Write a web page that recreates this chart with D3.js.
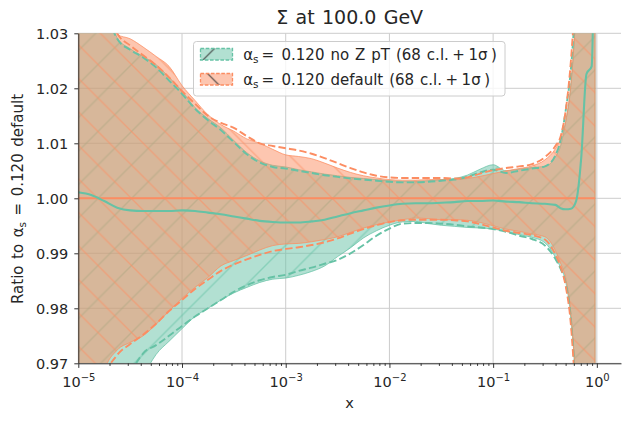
<!DOCTYPE html>
<html>
<head>
<meta charset="utf-8">
<script src="https://cdn.jsdelivr.net/npm/d3@7"></script>
<style>
  body { margin: 0; background: #fff; }
  svg { display: block; font-family: "DejaVu Sans", sans-serif; }
</style>
</head>
<body>
<svg id="chart" width="630" height="421"></svg>
<script>

// x positions, as log10(x)
var xExp = [-5, -4.875, -4.75, -4.625, -4.5, -4.375, -4.25, -4.125, -4, -3.875,
            -3.75, -3.625, -3.5, -3.375, -3.25, -3.125, -3, -2.875, -2.75, -2.625,
            -2.5, -2.375, -2.25, -2.125, -2, -1.875, -1.75, -1.625, -1.5, -1.375,
            -1.25, -1.125, -1, -0.875, -0.75, -0.625, -0.5, -0.4, -0.35, -0.3,
            -0.25, -0.2, -0.15, -0.1, -0.05, -0.017];

// alpha_s = 0.120 no Z pT
var greenCentral = [1.0011, 1.0006, 0.9995, 0.9983, 0.9978, 0.9977, 0.9977, 0.9977, 0.9978, 0.9977,
                    0.9974, 0.9971, 0.9967, 0.9963, 0.9959, 0.9957, 0.9956, 0.9956, 0.9958, 0.9961,
                    0.9967, 0.9973, 0.9978, 0.9983, 0.9987, 0.9990, 0.9991, 0.9991, 0.9992, 0.9993,
                    0.9995, 0.9995, 0.9996, 0.9994, 0.9993, 0.9991, 0.9990, 0.9988, 0.9982, 0.9980,
                    0.9981, 0.9995, 1.0075, 1.0226, 1.0240, 1.0600];
var greenUp = [1.050, 1.045, 1.036, 1.0292, 1.0272, 1.0258, 1.0243, 1.0220, 1.0195, 1.0165,
               1.0145, 1.0128, 1.0105, 1.0083, 1.0068, 1.0060, 1.0057, 1.0052, 1.0048, 1.0044,
               1.0041, 1.0038, 1.0036, 1.0034, 1.0032, 1.0031, 1.0031, 1.0032, 1.0034, 1.0036,
               1.0042, 1.0053, 1.0061, 1.0050, 1.0053, 1.0056, 1.0058, 1.0075, 1.0095, 1.0140,
               1.0205, 1.0350, 1.06, 1.06, 1.06, 1.06];
var greenLo = [0.930, 0.935, 0.945, 0.955, 0.962, 0.9675, 0.9716, 0.9740, 0.9763, 0.9785,
               0.9800, 0.9815, 0.9828, 0.9838, 0.9847, 0.9853, 0.9855, 0.9860, 0.9867, 0.9877,
               0.9894, 0.9910, 0.9928, 0.9941, 0.9951, 0.9957, 0.9958, 0.9954, 0.9951, 0.9949,
               0.9947, 0.9946, 0.9944, 0.9940, 0.9934, 0.9929, 0.9919, 0.9893, 0.9874, 0.9848,
               0.9780, 0.9640, 0.93, 0.93, 0.93, 0.93];
var greenDashUp = [1.049, 1.044, 1.035, 1.0290, 1.0270, 1.0256, 1.0238, 1.0214, 1.0190, 1.0163,
                   1.0142, 1.0124, 1.0102, 1.0080, 1.0065, 1.0057, 1.0054, 1.0050, 1.0046, 1.0042,
                   1.0039, 1.0036, 1.0034, 1.0032, 1.0030, 1.0029, 1.0029, 1.0030, 1.0032, 1.0034,
                   1.0039, 1.0047, 1.0052, 1.0046, 1.0050, 1.0054, 1.0058, 1.0078, 1.0105, 1.0160,
                   1.0235, 1.0380, 1.06, 1.06, 1.06, 1.06];
var greenDashLo = [0.935, 0.940, 0.950, 0.958, 0.9675, 0.9718, 0.9733, 0.9750, 0.9768, 0.9785,
                   0.9800, 0.9815, 0.9830, 0.9842, 0.9851, 0.9857, 0.9861, 0.9868, 0.9874, 0.9881,
                   0.9888, 0.9900, 0.9915, 0.9932, 0.9945, 0.9954, 0.9955, 0.9955, 0.9954, 0.9952,
                   0.9949, 0.9947, 0.9944, 0.9939, 0.9932, 0.9926, 0.9914, 0.9890, 0.9872, 0.9845,
                   0.9780, 0.9630, 0.935, 0.935, 0.935, 0.935];

// alpha_s = 0.120 default (the reference, central value is 1)
var orangeCentral = xExp.map(function() { return 1.0; });
var orangeUp = [1.045, 1.040, 1.034, 1.0298, 1.0290, 1.0275, 1.0258, 1.0240, 1.0205, 1.0178,
                1.0152, 1.0134, 1.0122, 1.0108, 1.0100, 1.0089, 1.0079, 1.0076, 1.0072, 1.0064,
                1.0055, 1.0047, 1.0041, 1.0037, 1.0034, 1.0033, 1.0033, 1.0034, 1.0034, 1.0034,
                1.0036, 1.0040, 1.0045, 1.0050, 1.0054, 1.0059, 1.0070, 1.0090, 1.0108, 1.0140,
                1.0210, 1.0350, 1.06, 1.06, 1.06, 1.06];
var orangeLo = [0.950, 0.955, 0.9685, 0.9724, 0.9738, 0.9750, 0.9771, 0.9795, 0.9818, 0.9838,
                0.9856, 0.9877, 0.9887, 0.9896, 0.9906, 0.9914, 0.9917, 0.9918, 0.9921, 0.9925,
                0.9930, 0.9938, 0.9946, 0.9952, 0.9957, 0.9961, 0.9964, 0.9963, 0.9961, 0.9961,
                0.9960, 0.9956, 0.9950, 0.9944, 0.9940, 0.9935, 0.9930, 0.9905, 0.9882, 0.9855,
                0.9790, 0.9650, 0.94, 0.94, 0.94, 0.94];
var orangeDashUp = [1.050, 1.045, 1.038, 1.0300, 1.0278, 1.0260, 1.0242, 1.0220, 1.0195, 1.0172,
                    1.0150, 1.0137, 1.0128, 1.0113, 1.0100, 1.0095, 1.0091, 1.0087, 1.0081, 1.0073,
                    1.0064, 1.0055, 1.0047, 1.0041, 1.0038, 1.0037, 1.0037, 1.0037, 1.0037, 1.0036,
                    1.0038, 1.0045, 1.0051, 1.0055, 1.0058, 1.0062, 1.0075, 1.0095, 1.0112, 1.0160,
                    1.0250, 1.0400, 1.06, 1.06, 1.06, 1.06];
var orangeDashLo = [0.948, 0.953, 0.9670, 0.9715, 0.9735, 0.9752, 0.9772, 0.9795, 0.9815, 0.9835,
                    0.9852, 0.9868, 0.9880, 0.9889, 0.9897, 0.9904, 0.9908, 0.9911, 0.9915, 0.9920,
                    0.9927, 0.9936, 0.9944, 0.9951, 0.9957, 0.9960, 0.9961, 0.9961, 0.9961, 0.9960,
                    0.9958, 0.9953, 0.9947, 0.9941, 0.9937, 0.9933, 0.9925, 0.9898, 0.9876, 0.9840,
                    0.9770, 0.9620, 0.94, 0.94, 0.94, 0.94];

var xMajorExp = [-5, -4, -3, -2, -1, 0];
var yTicks = [0.97, 0.98, 0.99, 1.00, 1.01, 1.02, 1.03];
var legendLabels = ['0.120 no Z pT (68 c.l.', '0.120 default (68 c.l.'];

var width = 630, height = 421;
var margin = {top: 33.3, right: 9, bottom: 57.7, left: 78.3};
var plotW = width - margin.left - margin.right,
    plotH = height - margin.top - margin.bottom;

var green = '#66c2a5', orange = '#fc8d62', ink = '#262626';

var xScale = d3.scaleLog().domain([1e-5, 1.71]).range([margin.left, margin.left + plotW]);
var yScale = d3.scaleLinear().domain([0.97, 1.03]).range([margin.top + plotH, margin.top]);

var rows = xExp.map(function(e, i) {
  return {
    x: Math.pow(10, e),
    gc: greenCentral[i], gu: greenUp[i], gl: greenLo[i], gdu: greenDashUp[i], gdl: greenDashLo[i],
    oc: orangeCentral[i], ou: orangeUp[i], ol: orangeLo[i], odu: orangeDashUp[i], odl: orangeDashLo[i]
  };
});

var svg = d3.select('#chart');
var defs = svg.append('defs');

defs.append('clipPath').attr('id', 'plot-clip')
  .append('rect')
    .attr('x', margin.left).attr('y', margin.top)
    .attr('width', plotW).attr('height', plotH);

// hatch tiles, same phase for the plot and the legend
var P = 33.5;
function hatch(id, dir, color, opacity, lw) {
  var d = dir === '/'
    ? 'M0,' + P + 'L' + P + ',0M-2,2L2,-2M' + (P - 2) + ',' + (P + 2) + 'L' + (P + 2) + ',' + (P - 2)
    : 'M0,0L' + P + ',' + P + 'M-2,' + (P - 2) + 'L2,' + (P + 2) + 'M' + (P - 2) + ',-2L' + (P + 2) + ',2';
  defs.append('pattern')
      .attr('id', id)
      .attr('patternUnits', 'userSpaceOnUse')
      .attr('x', dir === '/' ? -5 : 0).attr('y', 0)
      .attr('width', P).attr('height', P)
    .append('path')
      .attr('d', d)
      .attr('stroke', color)
      .attr('stroke-opacity', opacity)
      .attr('stroke-width', lw)
      .attr('fill', 'none');
}
hatch('hatch-green', '/', green, 0.55, 1.4);
hatch('hatch-orange', '\\', orange, 0.55, 1.4);
hatch('hatch-green-leg', '/', '#333', 0.75, 1.3);
hatch('hatch-orange-leg', '\\', '#333', 0.75, 1.3);

// grid
var grid = svg.append('g').attr('stroke', '#cccccc').attr('stroke-width', 1);
grid.selectAll('.vgrid').data(xMajorExp)
  .enter().append('line')
    .attr('class', 'vgrid')
    .attr('x1', function(e) { return xScale(Math.pow(10, e)); })
    .attr('x2', function(e) { return xScale(Math.pow(10, e)); })
    .attr('y1', margin.top).attr('y2', margin.top + plotH);
grid.selectAll('.hgrid').data(yTicks)
  .enter().append('line')
    .attr('class', 'hgrid')
    .attr('x1', margin.left).attr('x2', margin.left + plotW)
    .attr('y1', function(d) { return yScale(d); })
    .attr('y2', function(d) { return yScale(d); });

var plot = svg.append('g').attr('clip-path', 'url(#plot-clip)');

function band(lo, hi) {
  return d3.area()
    .x(function(d) { return xScale(d.x); })
    .y0(function(d) { return yScale(d[lo]); })
    .y1(function(d) { return yScale(d[hi]); })
    .curve(d3.curveMonotoneX);
}
function curve(key) {
  return d3.line()
    .x(function(d) { return xScale(d.x); })
    .y(function(d) { return yScale(d[key]); })
    .curve(d3.curveMonotoneX);
}

var bands = [
  {lo: 'gl', hi: 'gu', color: green, hatch: 'url(#hatch-green)'},
  {lo: 'ol', hi: 'ou', color: orange, hatch: 'url(#hatch-orange)'}
];
bands.forEach(function(b) {
  var path = band(b.lo, b.hi)(rows);
  plot.append('path').attr('d', path).attr('fill', b.color).attr('fill-opacity', 0.5);
  plot.append('path').attr('d', path).attr('fill', b.hatch);
  plot.append('path').attr('d', path)
    .attr('fill', 'none').attr('stroke', b.color)
    .attr('stroke-opacity', 0.75).attr('stroke-width', 1);
});

var dashed = [
  {key: 'gdu', color: green}, {key: 'gdl', color: green},
  {key: 'odu', color: orange}, {key: 'odl', color: orange}
];
plot.selectAll('.dash').data(dashed)
  .enter().append('path')
    .attr('class', 'dash')
    .attr('d', function(d) { return curve(d.key)(rows); })
    .attr('fill', 'none')
    .attr('stroke', function(d) { return d.color; })
    .attr('stroke-width', 1.9)
    .attr('stroke-dasharray', '7.4,3.2');

plot.append('path').attr('d', curve('oc')(rows))
  .attr('fill', 'none').attr('stroke', orange).attr('stroke-width', 2.1);
plot.append('path').attr('d', curve('gc')(rows))
  .attr('fill', 'none').attr('stroke', green).attr('stroke-width', 2.1);

// axes
var minorTicks = [];
xMajorExp.slice(0, -1).forEach(function(e) {
  for (var k = 2; k <= 9; k++) minorTicks.push(k * Math.pow(10, e));
});

var xMinor = svg.append('g')
    .attr('transform', 'translate(0,' + (margin.top + plotH) + ')')
    .call(d3.axisBottom(xScale).tickValues(minorTicks).tickSize(2.6).tickFormat(''));
xMinor.select('.domain').remove();

var xAxis = svg.append('g')
    .attr('transform', 'translate(0,' + (margin.top + plotH) + ')')
    .call(d3.axisBottom(xScale)
      .tickValues(xMajorExp.map(function(e) { return Math.pow(10, e); }))
      .tickSize(4.6).tickSizeOuter(0).tickFormat(''));

xAxis.selectAll('.tick text').each(function(d) {
  var t = d3.select(this)
      .attr('y', 23.8).attr('dy', null)
      .attr('text-anchor', 'middle');
  t.append('tspan').text('10');
  t.append('tspan')
    .attr('font-size', 10)
    .attr('dy', -6.2)
    .text(String(Math.round(Math.log10(d))).replace('-', '\u2212'));
});

var yAxis = svg.append('g')
    .attr('transform', 'translate(' + margin.left + ',0)')
    .call(d3.axisLeft(yScale).tickValues(yTicks).tickSize(4).tickSizeOuter(0)
      .tickPadding(6).tickFormat(d3.format('.2f')));

[xMinor, xAxis, yAxis].forEach(function(ax) {
  ax.attr('font-family', null).attr('font-size', 14.5);
  ax.selectAll('.domain').attr('stroke', '#333');
  ax.selectAll('.tick line').attr('stroke', '#333');
  ax.selectAll('.tick text').attr('fill', ink);
});
yAxis.selectAll('.tick text').attr('dy', '0.34em');

// titles
svg.append('text')
    .attr('x', margin.left + plotW / 2).attr('y', 24)
    .attr('text-anchor', 'middle')
    .attr('font-size', 19).attr('fill', ink)
    .attr('word-spacing', 1.3)
    .text('Σ at 100.0 GeV');

svg.append('text')
    .attr('x', margin.left + plotW / 2).attr('y', 408)
    .attr('text-anchor', 'middle')
    .attr('font-size', 14.5).attr('fill', ink)
    .text('x');

var yLabel = svg.append('text')
    .attr('transform', 'translate(22.8,199) rotate(-90)')
    .attr('text-anchor', 'middle')
    .attr('font-size', 15).attr('fill', ink)
    .attr('word-spacing', 1.8);
yLabel.append('tspan').text('Ratio to α');
yLabel.append('tspan').attr('font-size', 10.5).attr('dy', 3).text('s');
yLabel.append('tspan').attr('dy', -3).text(' = 0.120 default');

// legend
var legend = svg.append('g');
legend.append('rect')
    .attr('x', 193.5).attr('y', 41.5)
    .attr('width', 311.5).attr('height', 54.5)
    .attr('rx', 3)
    .attr('fill', '#fff').attr('fill-opacity', 0.8)
    .attr('stroke', '#cccccc').attr('stroke-width', 1);

var legendRows = [
  {label: legendLabels[0], color: green, hatch: 'url(#hatch-green-leg)', top: 48.5},
  {label: legendLabels[1], color: orange, hatch: 'url(#hatch-orange-leg)', top: 73.5}
];
legendRows.forEach(function(r) {
  var base = r.top + 11;
  legend.append('rect')
      .attr('x', 200.5).attr('y', r.top).attr('width', 32).attr('height', 11.5)
      .attr('fill', r.color).attr('fill-opacity', 0.5);
  legend.append('rect')
      .attr('x', 200.5).attr('y', r.top).attr('width', 32).attr('height', 11.5)
      .attr('fill', r.hatch)
      .attr('stroke', r.color).attr('stroke-width', 1.3)
      .attr('stroke-dasharray', '3.6,1.6');
  legend.append('text').attr('x', 243.3).attr('y', base)
      .attr('font-size', 15).attr('fill', ink).text('α');
  legend.append('text').attr('x', 253).attr('y', base + 3)
      .attr('font-size', 10.5).attr('fill', ink).text('s');
  legend.append('text').attr('x', 261.5).attr('y', base)
      .attr('font-size', 15).attr('fill', ink).text('=');
  var main = legend.append('text').attr('x', 281.5).attr('y', base)
      .attr('font-size', 15).attr('fill', ink)
      .attr('word-spacing', 1.2)
      .text(r.label);
  var tailX = 281.5 + main.node().getComputedTextLength() + 3.5;
  var tail = legend.append('text').attr('x', tailX).attr('y', base)
      .attr('font-size', 15).attr('fill', ink);
  tail.append('tspan').text('+');
  tail.append('tspan').attr('dx', 3.5).text('1σ');
  tail.append('tspan').attr('dx', 3.5).text(')');
});

</script>
</body>
</html>
